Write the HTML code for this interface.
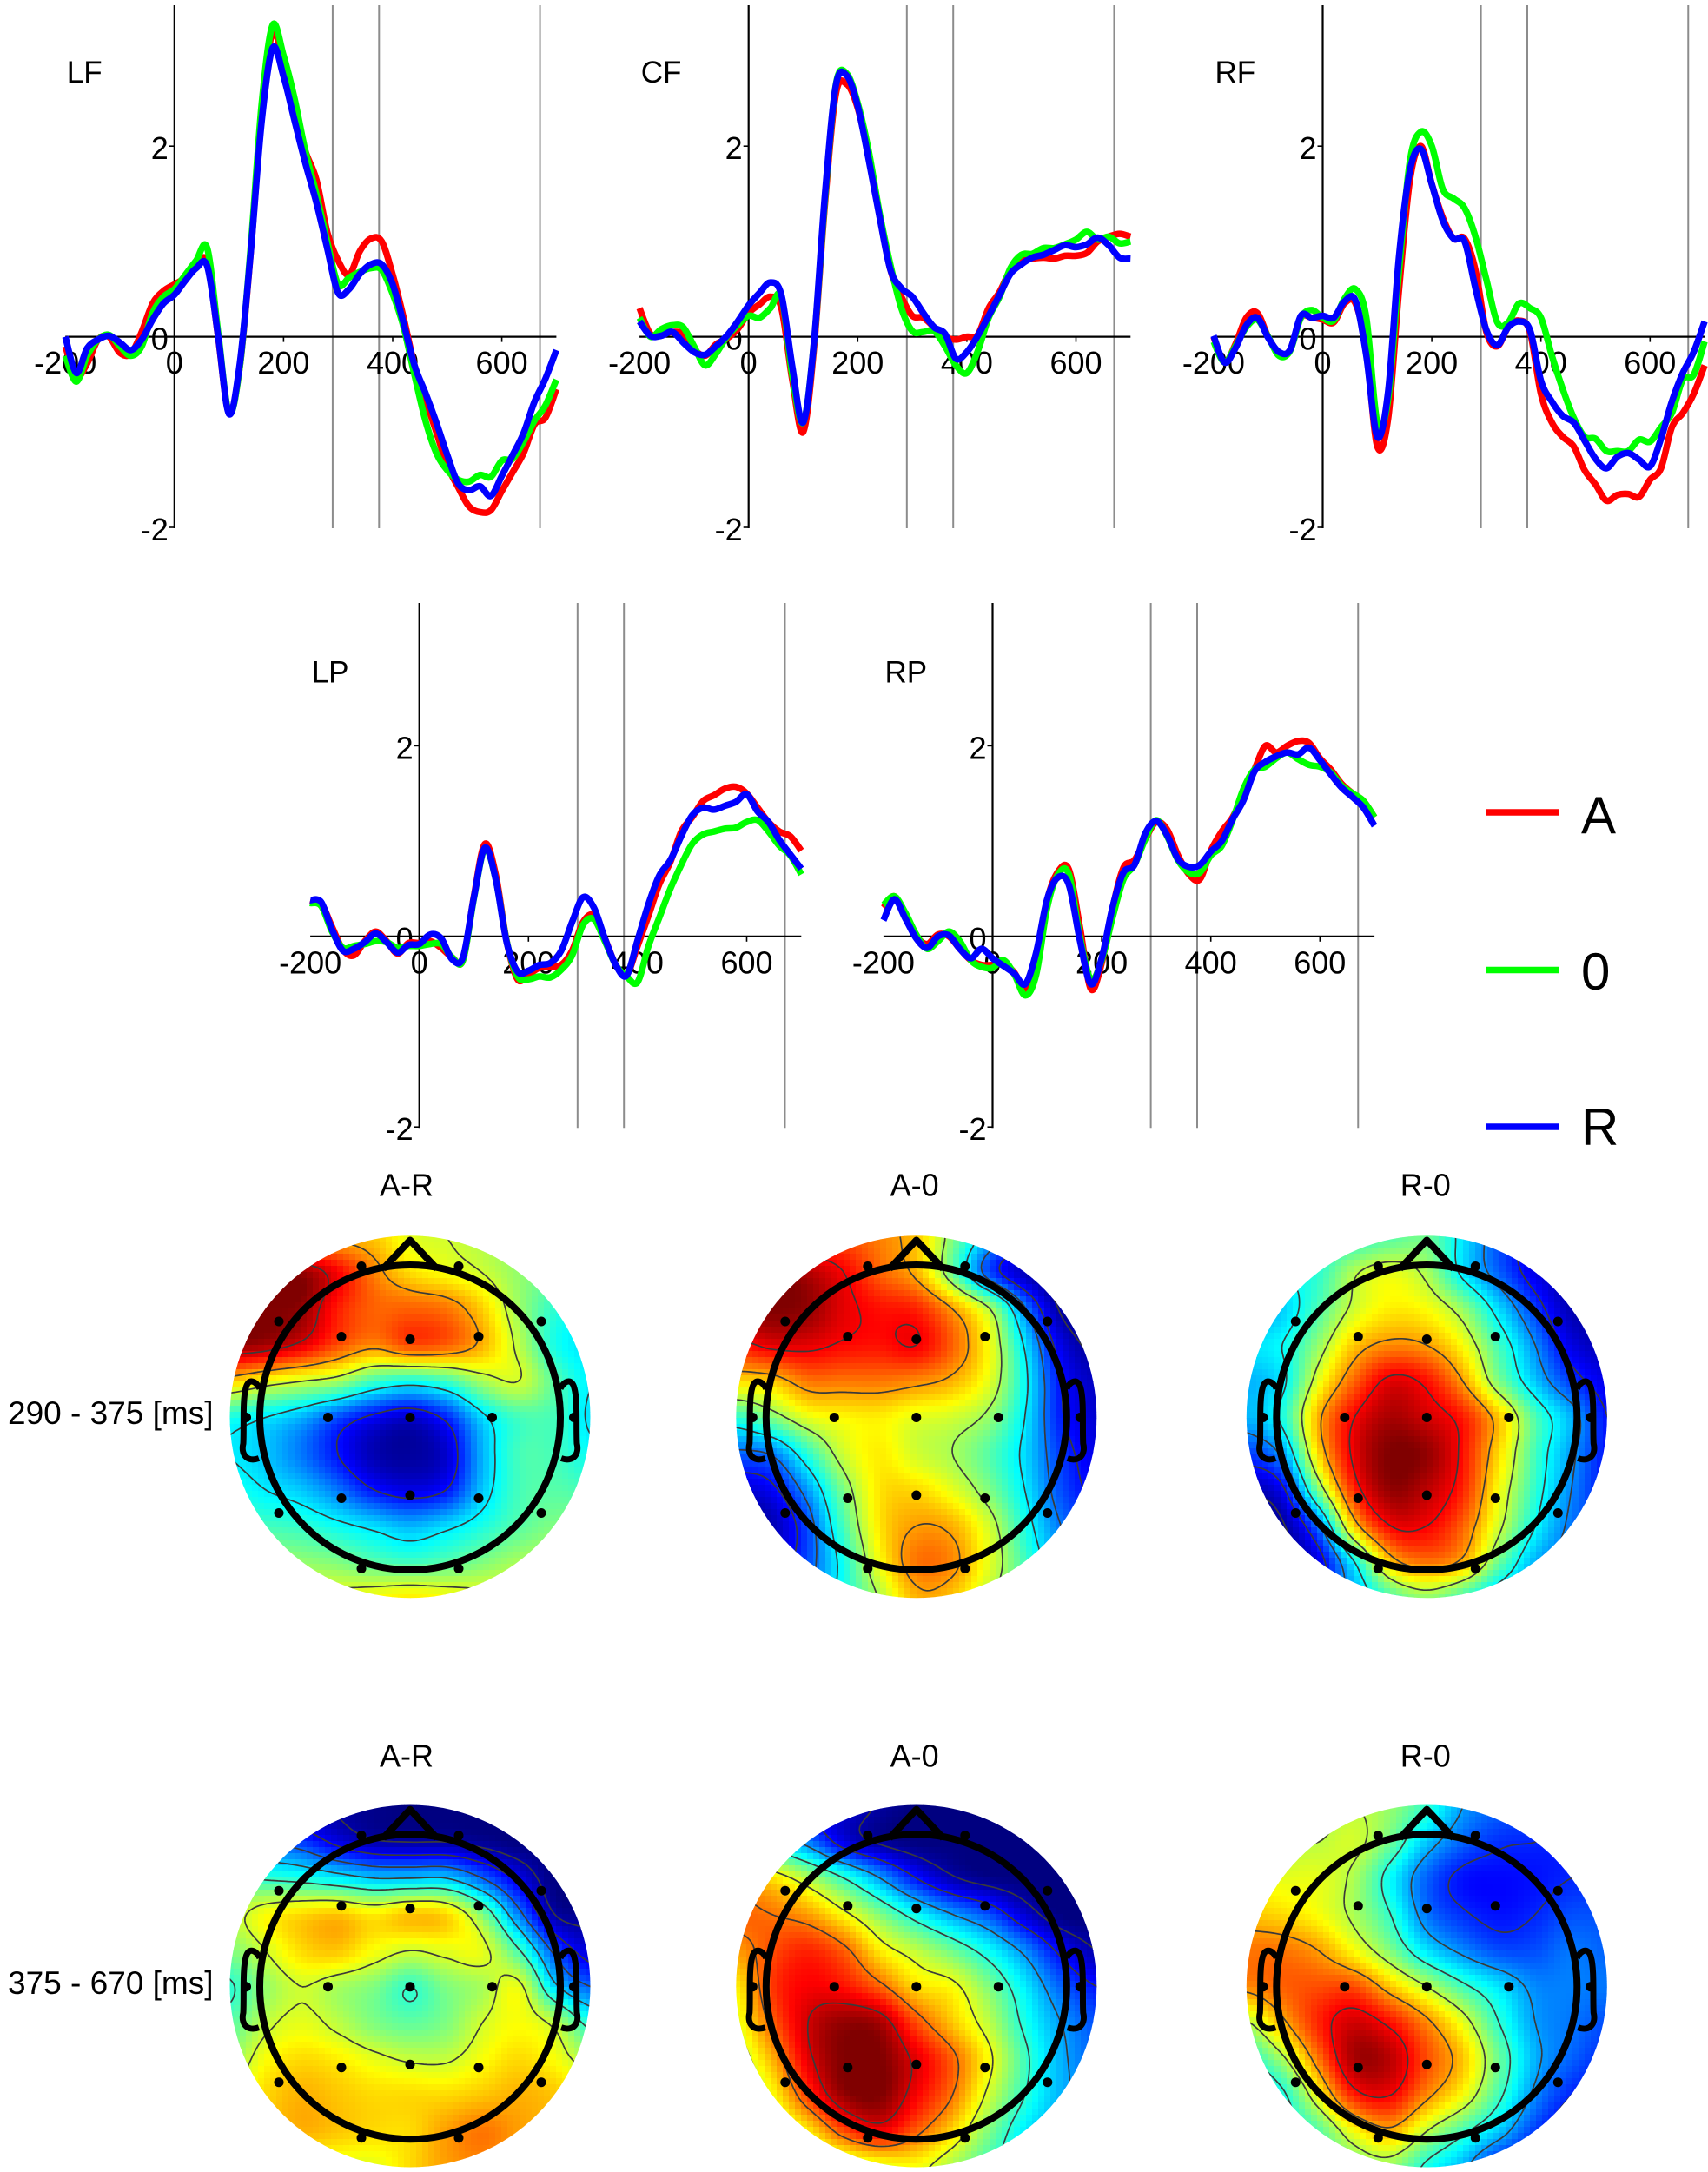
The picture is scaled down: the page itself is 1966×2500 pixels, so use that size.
<!DOCTYPE html>
<html lang="en">
<head>
<meta charset="utf-8">
<title>ERP waveforms and scalp topographies</title>
<style>
html,body{margin:0;padding:0;background:#fff;}
svg{display:block;}
text{font-family:"Liberation Sans",Arial,sans-serif;fill:#000;}
</style>
</head>
<body>
<svg id="figure" xmlns="http://www.w3.org/2000/svg" width="1966" height="2500" viewBox="0 0 1966 2500">
  <rect x="0" y="0" width="1966" height="2500" fill="#fff"/>
  <g id="panels"></g>
  <g id="legend">
    <line x1="1710" x2="1795" y1="935" y2="935" stroke="#ff0000" stroke-width="7.5"/>
    <text x="1820" y="959" font-size="60">A</text>
    <line x1="1710" x2="1795" y1="1116.5" y2="1116.5" stroke="#00ff00" stroke-width="7.5"/>
    <text x="1820" y="1139" font-size="60">0</text>
    <line x1="1710" x2="1795" y1="1297" y2="1297" stroke="#0000ff" stroke-width="7.5"/>
    <text x="1820" y="1318" font-size="60">R</text>
  </g>
  <g id="maps"></g>
  <text x="9" y="1638.8" font-size="37">290 - 375 [ms]</text>
  <text x="9" y="2295" font-size="37">375 - 670 [ms]</text>
  <text x="468" y="1376.7" font-size="36" text-anchor="middle">A-R</text>
  <text x="1052.6" y="1376.7" font-size="36" text-anchor="middle">A-0</text>
  <text x="1640.8" y="1376.7" font-size="36" text-anchor="middle">R-0</text>
  <text x="468" y="2033.3" font-size="36" text-anchor="middle">A-R</text>
  <text x="1052.6" y="2033.3" font-size="36" text-anchor="middle">A-0</text>
  <text x="1640.8" y="2033.3" font-size="36" text-anchor="middle">R-0</text>
</svg>
<script>
// ---- waveform data (microvolts at each time in ms) ----
const times = [-200,-180,-160,-140,-120,-100,-80,-60,-40,-20,0,20,40,60,80,100,120,140,160,180,200,220,240,260,280,300,320,340,360,380,400,420,440,460,480,500,520,540,560,580,600,620,640,660,680,700];
const xTickValues = [-200,0,200,400,600];
const yTickValues = [2,0,-2];
const markerTimes = [290,375,670];

const lfRed = [-.1,-.42,-.28,-.03,0,-.17,-.18,.05,.35,.48,.55,.62,.75,.78,0,-.8,-.3,.9,2.35,3.2,2.85,2.4,1.95,1.65,1.1,.8,.65,.9,1.03,1,.65,.2,-.3,-.65,-1,-1.35,-1.58,-1.78,-1.84,-1.82,-1.62,-1.42,-1.22,-.92,-.85,-.55];
const lfGreen = [-.2,-.47,-.2,-.03,.02,-.1,-.2,-.1,.25,.42,.5,.65,.8,.93,.05,-.8,-.3,.95,2.45,3.27,2.95,2.5,1.95,1.5,1,.55,.62,.68,.72,.7,.45,.1,-.4,-.88,-1.22,-1.4,-1.5,-1.52,-1.45,-1.47,-1.3,-1.28,-1.1,-.88,-.72,-.45];
const lfBlue = [0,-.38,-.12,-.03,.01,-.06,-.14,-.03,.18,.35,.44,.59,.72,.74,.01,-.81,-.27,.9,2.27,3.03,2.73,2.27,1.82,1.41,.93,.46,.5,.66,.76,.76,.55,.14,-.3,-.59,-.9,-1.24,-1.54,-1.61,-1.57,-1.67,-1.46,-1.24,-1.01,-.68,-.44,-.14];

const cfRed = [.3,.03,.03,.05,.03,-.13,-.2,-.08,-.02,.08,.25,.34,.42,.3,-.45,-1,-.1,1.4,2.55,2.65,2.4,1.9,1.27,.7,.42,.22,.2,.1,0,-.03,0,.02,.3,.47,.7,.8,.82,.83,.82,.85,.85,.88,1,1.05,1.08,1.05];
const cfGreen = [.2,0,.08,.12,.1,-.1,-.3,-.18,0,.12,.22,.2,.3,.42,-.4,-.9,-.05,1.45,2.65,2.76,2.45,1.95,1.3,.75,.3,.06,.05,.06,-.1,-.3,-.38,-.15,.2,.42,.72,.86,.87,.93,.93,.97,1.02,1.1,1.02,1.05,.98,1];
const cfBlue = [.16,.01,.01,.05,-.06,-.16,-.19,-.1,.01,.16,.33,.46,.57,.44,-.31,-.9,-.04,1.49,2.64,2.74,2.42,1.86,1.26,.7,.51,.42,.25,.1,.03,-.23,-.16,.01,.22,.44,.66,.76,.83,.86,.91,.96,.94,.97,1.04,.96,.83,.82];

const rfRed = [0,-.27,-.08,.2,.25,0,-.17,-.14,.2,.2,.18,.15,.35,.35,-.15,-1.15,-.85,.5,1.65,2,1.6,1.25,1.03,1.03,.7,.05,-.1,.1,.17,.05,-.6,-.9,-1.05,-1.15,-1.4,-1.55,-1.72,-1.66,-1.65,-1.68,-1.5,-1.38,-.95,-.8,-.6,-.3];
const rfGreen = [-.05,-.27,-.1,.1,.18,0,-.2,-.15,.2,.28,.2,.17,.4,.5,.2,-.9,-.65,.7,1.85,2.15,2,1.55,1.45,1.35,1.05,.6,.15,.15,.35,.3,.2,-.2,-.55,-.85,-1.05,-1.07,-1.2,-1.2,-1.2,-1.08,-1.1,-.95,-.8,-.45,-.4,-.05];
const rfBlue = [.01,-.27,-.12,.12,.2,-.01,-.16,-.14,.22,.2,.22,.2,.37,.38,-.2,-1.05,-.57,.85,1.75,1.97,1.6,1.22,1.03,1,.51,.07,-.09,.1,.16,.07,-.46,-.68,-.83,-.9,-1.09,-1.28,-1.38,-1.26,-1.22,-1.29,-1.36,-1.07,-.68,-.38,-.16,.16];

const lpRed = [.38,.35,.1,-.14,-.2,-.05,.05,-.05,-.18,-.07,-.07,-.05,-.12,-.22,-.25,.42,.97,.65,-.05,-.45,-.4,-.33,-.32,-.3,-.15,.15,.22,-.02,-.3,-.4,-.1,.22,.55,.78,1.1,1.25,1.42,1.48,1.55,1.57,1.5,1.35,1.2,1.1,1.05,.9];
const lpGreen = [.35,.32,.05,-.12,-.1,-.08,-.05,-.06,-.12,-.1,-.1,-.08,-.08,-.22,-.25,.4,.92,.6,-.05,-.42,-.45,-.42,-.43,-.35,-.2,.12,.18,-.05,-.3,-.42,-.48,-.1,.2,.5,.75,.97,1.07,1.1,1.13,1.14,1.2,1.22,1.1,.95,.85,.65];
const lpBlue = [.38,.36,.07,-.15,-.13,-.06,.03,-.06,-.17,-.09,-.08,.02,-.02,-.24,-.22,.41,.93,.6,-.06,-.37,-.36,-.3,-.28,-.15,.15,.41,.3,-.02,-.3,-.41,-.04,.34,.64,.8,1.05,1.27,1.35,1.33,1.37,1.41,1.49,1.31,1.2,1.01,.86,.71];

const rpRed = [.3,.42,.2,0,-.08,.02,0,-.13,-.25,-.3,-.3,-.28,-.38,-.55,-.25,.38,.68,.7,.1,-.55,-.28,.3,.72,.8,1.02,1.2,1.12,.85,.65,.6,.9,1.1,1.25,1.5,1.75,2,1.93,2,2.05,2.03,1.87,1.75,1.6,1.5,1.42,1.25];
const rpGreen = [.33,.42,.25,.02,-.13,-.05,.05,-.05,-.25,-.32,-.33,-.25,-.4,-.62,-.4,.3,.65,.65,0,-.45,-.25,.2,.6,.75,1.02,1.22,1.05,.8,.67,.67,.85,.95,1.22,1.55,1.75,1.78,1.87,1.93,1.86,1.8,1.78,1.72,1.58,1.5,1.42,1.25];
const rpBlue = [.17,.39,.19,-.02,-.12,0,.01,-.13,-.23,-.13,-.23,-.31,-.39,-.5,-.17,.39,.62,.54,-.04,-.5,-.23,.31,.67,.75,1.08,1.21,1.06,.81,.73,.75,.89,1,1.23,1.43,1.73,1.83,1.89,1.93,1.91,1.98,1.85,1.7,1.56,1.46,1.35,1.16];

// ---- scalp map data: colour-scale percent on an 11x11 grid, top row first, left column first ----
const mapAREarly = [
[70,70,70,70,68,60,58,55,52,50,50],
[100,100,98,88,75,66,62,58,52,48,45],
[100,100,98,85,78,78,76,67,53,42,38],
[98,96,90,80,74,80,78,70,56,40,35],
[68,62,58,54,44,40,44,54,58,46,36],
[40,36,30,20,12,8,16,34,44,44,35],
[36,32,24,14,5,3,8,30,44,44,38],
[40,36,32,24,14,10,14,32,44,46,44],
[46,44,42,38,34,30,34,40,46,50,50],
[56,54,52,50,46,44,46,50,54,56,58],
[62,62,60,60,62,64,62,60,60,60,60]];
const mapA0Early = [
[80,80,80,80,75,68,50,30,15,5,0],
[100,100,95,88,78,70,48,20,6,0,0],
[98,100,98,90,86,84,72,55,25,3,0],
[85,90,90,87,86,88,78,62,35,10,2],
[66,68,76,76,76,74,70,60,38,14,6],
[42,50,60,63,64,60,58,52,36,15,8],
[22,25,42,58,64,58,54,46,34,18,10],
[8,12,28,50,65,66,60,50,36,20,12],
[2,5,20,45,65,72,70,58,40,24,16],
[4,8,20,40,62,76,74,60,44,28,20],
[10,14,24,40,55,70,68,56,44,32,26]];
const mapR0Early = [
[40,40,40,42,46,48,35,20,8,2,0],
[35,38,42,55,60,54,36,22,10,3,0],
[28,33,45,58,64,62,52,34,18,5,2],
[35,38,52,68,74,72,62,44,26,10,5],
[30,36,60,78,90,86,72,50,32,18,10],
[30,40,70,88,96,92,85,68,45,30,14],
[18,28,66,90,100,98,86,66,44,28,14],
[5,12,50,84,98,94,84,62,42,26,14],
[0,3,24,68,88,88,78,58,38,24,16],
[0,2,10,38,68,76,70,48,30,22,18],
[5,8,15,30,45,52,44,32,26,22,20]];
const mapARLate = [
[8,6,5,3,1,0,0,0,0,0,0],
[25,22,18,10,5,4,4,2,0,0,0],
[44,42,40,36,32,32,32,22,10,0,0],
[55,62,66,68,64,68,66,50,25,4,2],
[50,58,66,68,62,58,60,60,44,20,8],
[42,52,58,54,50,43,50,54,60,34,22],
[46,56,60,56,50,47,50,58,62,56,40],
[52,62,66,64,60,57,57,62,66,62,54],
[58,66,70,68,66,66,66,68,70,68,62],
[62,66,70,68,66,66,72,76,72,68,64],
[58,58,60,60,60,66,72,74,70,66,62]];
const mapA0Late = [
[10,10,10,8,3,0,0,0,0,0,0],
[40,35,25,10,3,0,0,0,0,0,0],
[70,65,55,42,28,14,5,1,0,0,0],
[78,76,72,62,50,38,28,20,8,0,0],
[72,80,84,78,64,56,48,38,26,12,4],
[64,82,88,86,78,66,62,50,36,22,14],
[60,78,92,98,96,80,68,56,40,28,20],
[55,70,90,100,100,90,78,62,44,30,22],
[50,62,82,98,100,88,76,58,42,30,24],
[48,54,64,80,88,78,66,50,36,28,22],
[44,48,52,56,60,62,54,44,34,26,20]];
const mapR0Late = [
[50,50,52,56,52,42,28,22,20,18,18],
[54,55,56,58,48,32,22,17,16,15,15],
[62,60,60,54,38,22,14,13,14,16,16],
[68,66,62,54,42,24,17,14,16,20,20],
[76,76,72,62,50,35,26,20,20,24,22],
[74,78,80,80,68,56,44,35,26,25,24],
[55,70,84,92,86,74,60,42,28,24,20],
[40,54,76,96,94,80,68,48,30,22,16],
[32,40,62,85,88,74,62,44,26,16,12],
[34,38,46,62,70,56,44,32,18,10,8],
[40,42,46,50,52,40,30,15,10,6,6]];
const levelsAREarly = [14,36,58,72,92];
const levelsA0Early = [4,14,24,36,54,72,88];
const levelsR0Early = [4,14,26,38,56,72,88];
const levelsARLate = [4,12,22,32,43,58];
const levelsA0Late = [4,14,28,42,60,76,92];
const levelsR0Late = [16,28,42,56,72,88];
const electrodesX = [-56,56,-151,151,-79,0,79,-94.5,0,94.5,-188.5,188.5,-79,0,79,-151,151,-56,56];
const electrodesY = [-174,-174,-110.5,-110.5,-93,-90,-93,0,0,0,0,0,93,89.5,93,110,110,174,174];

// ---- drawing ----
const NS = 'http://www.w3.org/2000/svg';
function mk(tag, attrs, parent) {
  const el = document.createElementNS(NS, tag);
  for (const k in attrs) el.setAttribute(k, attrs[k]);
  parent.appendChild(el);
  return el;
}
function smoothPath(xs, ys) {
  let d = 'M' + xs[0].toFixed(1) + ' ' + ys[0].toFixed(1);
  for (let i = 0; i < xs.length - 1; i++) {
    const a = Math.max(i - 1, 0), b = Math.min(i + 2, xs.length - 1);
    const c1x = xs[i] + (xs[i + 1] - xs[a]) / 6, c1y = ys[i] + (ys[i + 1] - ys[a]) / 6;
    const c2x = xs[i + 1] - (xs[b] - xs[i]) / 6, c2y = ys[i + 1] - (ys[b] - ys[i]) / 6;
    d += 'C' + c1x.toFixed(1) + ' ' + c1y.toFixed(1) + ' ' + c2x.toFixed(1) + ' ' + c2y.toFixed(1) + ' ' + xs[i + 1].toFixed(1) + ' ' + ys[i + 1].toFixed(1);
  }
  return d;
}

function drawPanel(name, x0, y0, topY, seriesRed, seriesGreen, seriesBlue) {
  const xAt = t => x0 + t * 0.628;
  const yAt = v => y0 - v * 109.7;
  const root = document.getElementById('panels');
  const g = mk('g', {}, root);
  
  

  const title = mk('text', {x: x0 - 124, y: y0 - 292.5, 'font-size': 35}, g);
  title.textContent = name;
  
  

  markerTimes.forEach(t => {
    const m = mk('line', {x1: xAt(t), x2: xAt(t), y1: topY, y2: yAt(-2) + 1, stroke: '#8c8c8c', 'stroke-width': 2}, g);
    
    
  });

  const yAxis = mk('line', {x1: x0, x2: x0, y1: topY, y2: yAt(-2) + 1, stroke: '#000', 'stroke-width': 2.2}, g);
  
  
  const xAxis = mk('line', {x1: xAt(-200), x2: xAt(700), y1: y0, y2: y0, stroke: '#000', 'stroke-width': 2.2}, g);
  
  

  xTickValues.forEach(t => {
    if (t !== -200 && t !== 0) {
      const tk = mk('line', {x1: xAt(t), x2: xAt(t), y1: y0, y2: y0 + 6, stroke: '#000', 'stroke-width': 1.6}, g);
      
      
    }
    const lb = mk('text', {x: xAt(t), y: y0 + 42.5, 'font-size': 36, 'text-anchor': 'middle'}, g);
    lb.textContent = String(t);
    
    
  });
  yTickValues.forEach(v => {
    if (v !== 0) {
      const tk = mk('line', {x1: x0 - 6, x2: x0, y1: yAt(v), y2: yAt(v), stroke: '#000', 'stroke-width': 1.6}, g);
      
      
    }
    const lb = mk('text', {x: x0 - 7, y: yAt(v) + 15, 'font-size': 36, 'text-anchor': 'end'}, g);
    lb.textContent = String(v);
    
    
  });

  const xs = times.map(xAt);
  const red = mk('path', {d: smoothPath(xs, seriesRed.map(yAt)), fill: 'none', stroke: '#ff0000', 'stroke-width': 7.5, 'stroke-linejoin': 'round'}, g);
  
  
  const green = mk('path', {d: smoothPath(xs, seriesGreen.map(yAt)), fill: 'none', stroke: '#00ff00', 'stroke-width': 7.5, 'stroke-linejoin': 'round'}, g);
  
  
  const blue = mk('path', {d: smoothPath(xs, seriesBlue.map(yAt)), fill: 'none', stroke: '#0000ff', 'stroke-width': 7.5, 'stroke-linejoin': 'round'}, g);
  
  
}

drawPanel('LF', 200.8, 387.6, 6, lfRed, lfGreen, lfBlue);
drawPanel('CF', 861.7, 387.6, 6, cfRed, cfGreen, cfBlue);
drawPanel('RF', 1522.5, 387.6, 6, rfRed, rfGreen, rfBlue);
drawPanel('LP', 482.7, 1077.8, 694, lpRed, lpGreen, lpBlue);
drawPanel('RP', 1142.5, 1077.8, 694, rpRed, rpGreen, rpBlue);

function jet(p) {
  const v = Math.max(0, Math.min(1, p / 100));
  const cl = x => Math.round(255 * Math.max(0, Math.min(1, x)));
  return 'rgb(' + cl(Math.min(4 * v - 1.5, -4 * v + 4.5)) + ',' + cl(Math.min(4 * v - 0.5, -4 * v + 3.5)) + ',' + cl(Math.min(4 * v + 0.5, -4 * v + 2.5)) + ')';
}
function sampler(grid) {
  const n = grid.length - 1;
  const at = (r, c) => grid[Math.max(0, Math.min(n, r))][Math.max(0, Math.min(n, c))];
  const cr = (a, b, c, d, t) => b + 0.5 * t * (c - a + t * (2 * a - 5 * b + 4 * c - d + t * (3 * (b - c) + d - a)));
  return function (nx, ny) {
    const fx = Math.max(0, Math.min(n - 1e-6, (nx + 1) * n / 2));
    const fy = Math.max(0, Math.min(n - 1e-6, (ny + 1) * n / 2));
    const c = Math.floor(fx), r = Math.floor(fy);
    const rows = [];
    for (let k = -1; k <= 2; k++) rows.push(cr(at(r + k, c - 1), at(r + k, c), at(r + k, c + 1), at(r + k, c + 2), fx - c));
    return Math.max(0, Math.min(100, cr(rows[0], rows[1], rows[2], rows[3], fy - r)));
  };
}
function contourPath(field, levels, cx, cy) {
  const R = 208, step = 4, N = Math.ceil(2 * R / step);
  const vals = [];
  for (let j = 0; j <= N; j++) {
    const row = [];
    for (let i = 0; i <= N; i++) row.push(field(-1 + i * step / R, -1 + j * step / R));
    vals.push(row);
  }
  let d = '';
  levels.forEach(L => {
    for (let j = 0; j < N; j++) for (let i = 0; i < N; i++) {
      const a = vals[j][i], b = vals[j][i + 1], c = vals[j + 1][i + 1], e = vals[j + 1][i];
      const pts = [];
      const px = cx - R + i * step, py = cy - R + j * step;
      if ((a < L) !== (b < L)) pts.push([px + step * (L - a) / (b - a), py]);
      if ((b < L) !== (c < L)) pts.push([px + step, py + step * (L - b) / (c - b)]);
      if ((e < L) !== (c < L)) pts.push([px + step * (L - e) / (c - e), py + step]);
      if ((a < L) !== (e < L)) pts.push([px, py + step * (L - a) / (e - a)]);
      for (let k = 0; k + 1 < pts.length; k += 2) {
        d += 'M' + pts[k][0].toFixed(1) + ' ' + pts[k][1].toFixed(1) + 'L' + pts[k + 1][0].toFixed(1) + ' ' + pts[k + 1][1].toFixed(1);
      }
    }
  });
  return d;
}

let mapIndex = 0;
function drawMap(name, grid, levels, cx, cy) {
  const root = document.getElementById('maps');
  const g = mk('g', {}, root);
  
  
  const id = 'clip' + (mapIndex++);
  const clip = mk('clipPath', {id: id}, g);
  mk('ellipse', {cx: cx, cy: cy - 0.7, rx: 207.5, ry: 208.5}, clip);
  const field = sampler(grid);

  const cells = mk('g', {'clip-path': 'url(#' + id + ')', 'shape-rendering': 'crispEdges'}, g);
  
  
  const size = 7, count = 60;
  const startX = Math.round(cx - 210), startY = Math.round(cy - 210);
  for (let j = 0; j < count; j++) for (let i = 0; i < count; i++) {
    const mx = startX + i * size + size / 2 - cx, my = startY + j * size + size / 2 - cy;
    if (mx * mx + my * my > 216 * 216) continue;
    const cell = mk('rect', {x: startX + i * size, y: startY + j * size, width: size + 0.5, height: size + 0.5, fill: jet(field(mx / 208, my / 208))}, cells);
    
    
  }

  const cont = mk('path', {d: contourPath(field, levels, cx, cy), fill: 'none', stroke: '#3a3a3a', 'stroke-width': 1.7, 'clip-path': 'url(#' + id + ')'}, g);
  
  

  const head = mk('ellipse', {cx: cx, cy: cy, rx: 173, ry: 175.5, fill: 'none', stroke: '#000', 'stroke-width': 8}, g);
  
  
  const nose = mk('path', {d: 'M' + (cx - 31) + ' ' + (cy - 171) + 'L' + cx + ' ' + (cy - 204) + 'L' + (cx + 31) + ' ' + (cy - 171), fill: 'none', stroke: '#000', 'stroke-width': 8, 'stroke-linejoin': 'round'}, g);
  
  
  [-1, 1].forEach(s => {
    const px = v => cx + s * v;
    const ear = mk('path', {d: 'M' + px(173) + ' ' + (cy - 33) + 'C' + px(177) + ' ' + (cy - 42) + ' ' + px(186) + ' ' + (cy - 46) + ' ' + px(189) + ' ' + (cy - 34) + 'C' + px(193) + ' ' + (cy - 20) + ' ' + px(191) + ' ' + (cy + 10) + ' ' + px(192) + ' ' + (cy + 30) + 'C' + px(195) + ' ' + (cy + 42) + ' ' + px(188) + ' ' + (cy + 52) + ' ' + px(174) + ' ' + (cy + 47), fill: 'none', stroke: '#000', 'stroke-width': 7}, g);
    
    
  });
  electrodesX.forEach((ex, i) => {
    const dot = mk('circle', {cx: cx + ex, cy: cy + electrodesY[i], r: 5.5, fill: '#000'}, g);
    
    
  });
}

drawMap('a-r-early', mapAREarly, levelsAREarly, 472, 1631.5);
drawMap('a-0-early', mapA0Early, levelsA0Early, 1054.8, 1631.5);
drawMap('r-0-early', mapR0Early, levelsR0Early, 1642.3, 1631.5);
drawMap('a-r-late', mapARLate, levelsARLate, 472, 2286.7);
drawMap('a-0-late', mapA0Late, levelsA0Late, 1054.8, 2286.7);
drawMap('r-0-late', mapR0Late, levelsR0Late, 1642.3, 2286.7);
</script>
</body>
</html>
